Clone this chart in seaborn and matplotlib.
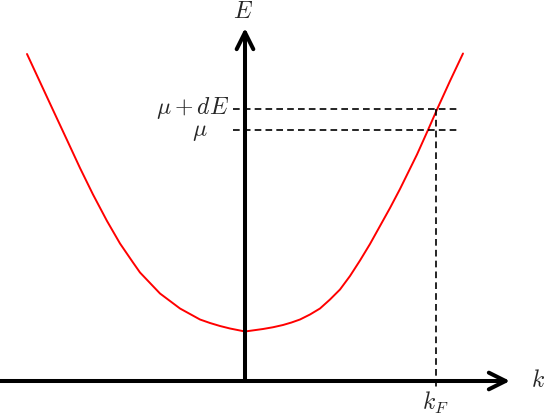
import matplotlib
matplotlib.use("Agg")
import matplotlib.pyplot as plt
import seaborn as sns
import pandas as pd

# dispersion curve E(k)
k_vals = [-4.36, -4.10, -3.84, -3.56, -3.30, -3.04, -2.76, -2.50, -2.24, -2.10,
          -1.90, -1.70, -1.50, -1.30, -1.10, -0.90, -0.70, -0.50, -0.30, 0.00,
          0.36, 0.56, 0.76, 0.93, 1.10, 1.30, 1.50, 1.70, 1.90, 2.10,
          2.30, 2.50, 2.70, 2.90, 3.10, 3.44, 3.66, 3.84, 4.10, 4.36]
e_vals = [6.54, 5.98, 5.42, 4.82, 4.26, 3.73, 3.20, 2.75, 2.37, 2.17,
          1.96, 1.75, 1.60, 1.45, 1.34, 1.23, 1.16, 1.10, 1.05, 0.99,
          1.04, 1.075, 1.12, 1.17, 1.23, 1.33, 1.45, 1.63, 1.83, 2.10,
          2.41, 2.74, 3.10, 3.46, 3.84, 4.53, 5.02, 5.43, 6.00, 6.55]

mu = 5.02
mu_de = 5.44
k_f = 3.82

sns.set_style("white")
plt.rcParams["mathtext.fontset"] = "cm"

fig = plt.figure(figsize=(5.45, 4.15), dpi=100)
ax = fig.add_axes([0, 0, 1, 1])
ax.set_xlim(-4.9, 6.0)
ax.set_ylim(-0.68, 7.62)
ax.axis("off")

df = pd.DataFrame({"k": k_vals, "E": e_vals})
sns.lineplot(data=df, x="k", y="E", color="red", lw=1.4, ax=ax)

# axes with open arrow heads
arrow = dict(arrowstyle="->,head_length=1.2,head_width=0.6", lw=2.9,
             color="black", shrinkA=0, shrinkB=0)
ax.annotate("", xy=(5.3, 0), xytext=(-4.9, 0), arrowprops=arrow)
ax.annotate("", xy=(0, 7.06), xytext=(0, 0), arrowprops=arrow)

# guide lines
dash = (0, (4, 2.5))
ax.plot([-0.24, 4.26], [mu_de, mu_de], color="black", lw=1.2, ls=dash)
ax.plot([-0.24, 4.26], [mu, mu], color="black", lw=1.2, ls=dash)
ax.plot([k_f, k_f], [mu_de, -0.14], color="black", lw=1.2, ls=dash)

ax.text(-0.04, 7.4, "$E$", fontsize=17, ha="center", va="center")
ax.text(5.86, 0.02, "$k$", fontsize=17, ha="center", va="center")
ax.text(k_f - 0.02, -0.44, "$k_F$", fontsize=17, ha="center", va="center")
ax.text(-0.32, mu_de + 0.02, "$\\mu + dE$", fontsize=17, ha="right", va="center")
ax.text(-0.9, mu - 0.02, "$\\mu$", fontsize=17, ha="center", va="center")

fig.savefig("out.png", dpi=100)
